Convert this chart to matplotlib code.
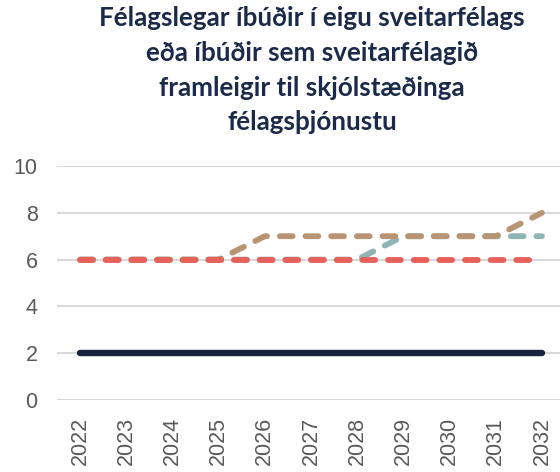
import matplotlib
matplotlib.use("Agg")
import matplotlib.pyplot as plt

years = [2022, 2023, 2024, 2025, 2026, 2027, 2028, 2029, 2030, 2031, 2032]
series_teal = [6, 6, 6, 6, 6, 6, 6, 7, 7, 7, 7]
series_tan = [6, 6, 6, 6, 7, 7, 7, 7, 7, 7, 8]
series_red = [6, 6, 6, 6, 6, 6, 6, 6, 6, 6, 6]
series_navy = [2, 2, 2, 2, 2, 2, 2, 2, 2, 2, 2]
yticks = [0, 2, 4, 6, 8, 10]
title = "Félagslegar íbúðir í eigu sveitarfélags\neða íbúðir sem sveitarfélagið\nframleigir til skjólstæðinga\nfélagsþjónustu"

W, H = 560, 472
fig = plt.figure(figsize=(W / 100, H / 100), dpi=100)
ax = fig.add_axes([57 / W, (H - 400) / H, 508 / W, 234 / H])

lw = 4.2
dash = (0, (2.2, 2.2))
ax.plot(years, series_teal, color="#8fb4b4", lw=lw, ls=dash, dash_capstyle="round", zorder=2)
ax.plot(years, series_tan, color="#b99472", lw=lw, ls=dash, dash_capstyle="round", zorder=3)
ax.plot(years, series_red, color="#e8605a", lw=lw, ls=dash, dash_capstyle="round", zorder=4)
ax.plot(years, series_navy, color="#15233f", lw=4.6, solid_capstyle="round", zorder=5)

ax.set_xlim(2021.5, 2032.5)
ax.set_ylim(0, 10)
ax.set_yticks(yticks)
ax.set_xticks(years)
ax.set_xticklabels([str(y) for y in years], rotation=90)
ax.grid(axis="y", color="#d9d9d9", lw=1.5, zorder=0)
ax.set_axisbelow(True)
for s in ax.spines.values():
    s.set_visible(False)
ax.tick_params(length=0, colors="#595959", labelsize=15.5)
ax.tick_params(axis="y", pad=14)
ax.tick_params(axis="x", pad=12)
for lab in ax.get_xticklabels() + ax.get_yticklabels():
    lab.set_fontfamily("Liberation Sans")

fig.text(312 / W, 1 - 6 / H, title, ha="center", va="top", fontsize=18.7,
         fontweight="bold", family="Lato", color="#1b2a48", linespacing=1.54)

fig.savefig("out.png", dpi=100)
